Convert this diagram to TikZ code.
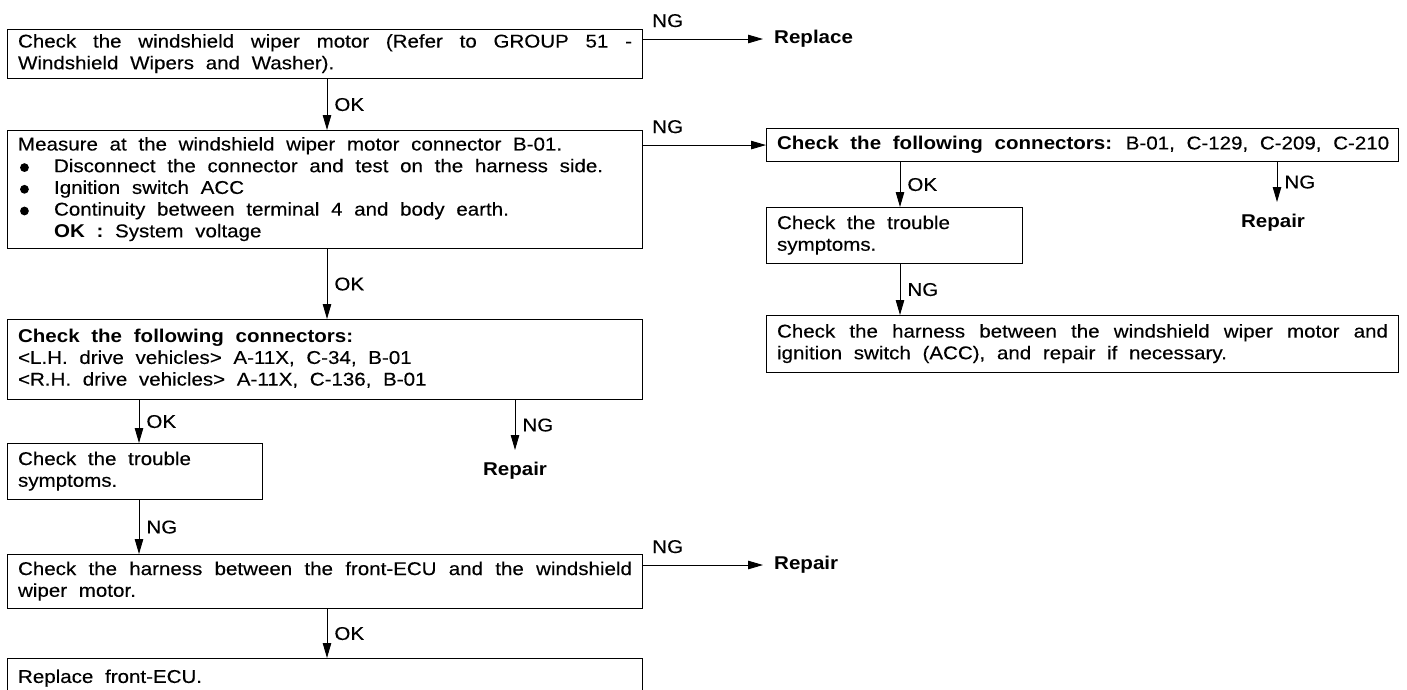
\documentclass[tikz,border=0pt]{standalone}
\usepackage{fontspec}
\setmainfont{Liberation Sans}[FakeStretch=1.11, WordSpace=2.05, UprightFeatures={FakeBold=0.25}]
\usetikzlibrary{arrows.meta,calc}

\newcommand{\flowfont}{\fontsize{18.5pt}{21.7pt}\selectfont}
% round bullet followed by the hanging indent of a list item
\newcommand{\dotitem}{\makebox[36pt][l]{\hspace{2pt}\tikz[baseline=0pt]\fill (4.4pt,4.6pt) circle[radius=4.4pt];}}

\begin{document}
\begin{tikzpicture}[x=1pt, y=-1pt, font=\flowfont,
  stepbox/.style={draw, line width=1.1pt, anchor=north west, inner xsep=10pt,
    inner ysep=0pt, align=justify,
    execute at begin node=\strut, execute at end node=\strut},
  flow/.style={line width=0.9pt, -{Triangle[length=15pt,width=8.5pt]}},
  lbl/.style={inner sep=0pt, font=\flowfont},
  result/.style={font=\flowfont\bfseries, inner xsep=11pt, inner ysep=12pt}]

\useasboundingbox (0,0) rectangle (1407,689);

% ---- left column ----
\node[stepbox, text width=614pt, minimum width=635pt, minimum height=49pt] (motor) at (7,29)
  {Check the windshield wiper motor (Refer to GROUP 51 -\linebreak Windshield Wipers and Washer).};

\node[stepbox, text width=614pt, minimum width=635pt, minimum height=118pt] (measure) at (7,130)
  {Measure at the windshield wiper motor connector B-01.\\%
   \dotitem Disconnect the connector and test on the harness side.\\%
   \dotitem Ignition switch ACC\\%
   \dotitem Continuity between terminal 4 and body earth.\\%
   \hspace*{36pt}\textbf{OK :} System voltage};

\node[stepbox, text width=614pt, minimum width=635pt, minimum height=80pt] (connL) at (7,319)
  {\textbf{Check the following connectors:}\\%
   <L.H. drive vehicles> A-11X, C-34, B-01\\%
   <R.H. drive vehicles> A-11X, C-136, B-01};

\node[stepbox, text width=234pt, minimum width=255pt, minimum height=56pt] (troubleL) at (7,443)
  {Check the trouble\\symptoms.};

\node[stepbox, text width=614pt, minimum width=635pt, minimum height=54pt] (harnessL) at (7,554)
  {Check the harness between the front-ECU and the windshield\linebreak wiper motor.};

\node[stepbox, text width=614pt, minimum width=635pt, minimum height=40pt] (ecu) at (7,658)
  {Replace front-ECU.};

% ---- right column ----
\node[stepbox, text width=611pt, minimum width=632pt, minimum height=33pt] (connR) at (766,128)
  {\mbox{\textbf{Check the following connectors:} B-01, C-129, C-209, C-210}};

\node[stepbox, text width=235pt, minimum width=256pt, minimum height=56pt] (troubleR) at (766,207)
  {Check the trouble\\symptoms.};

\node[stepbox, text width=611pt, minimum width=632pt, minimum height=57pt] (harnessR) at (766,315)
  {Check the harness between the windshield wiper motor and\linebreak ignition switch (ACC), and repair if necessary.};

% ---- end results ----
\node[result, anchor=west]  (replace) at (763,39)  {Replace};
\node[result, anchor=north] (repairR) at (1273,202) {Repair};
\node[result, anchor=north] (repairL) at (515,450)  {Repair};
\node[result, anchor=west]  (repairH) at (763,565)  {Repair};

% ---- connector columns and rows ----
\coordinate (mainx) at (327,0);
\coordinate (leftx) at (139,0);
\coordinate (ngLx)  at (515,0);
\coordinate (rightx) at (900,0);
\coordinate (ngRx)  at (1277,0);
\coordinate (row1)  at (0,39);
\coordinate (row8)  at (0,565);

% ---- connectors ----
\draw[flow] (motor.east |- row1) -- (replace.west);
\node[lbl, anchor=base west] at ($(motor.east |- row1)+(9,-12)$) {NG};

\draw[flow] (motor.south -| mainx) -- node[lbl, right=7pt] {OK} (measure.north -| mainx);

\draw[flow] (measure.east |- connR.west) -- (connR.west);
\node[lbl, anchor=base west] at ($(measure.east |- connR.west)+(9,-12)$) {NG};

\draw[flow] (measure.south -| mainx) -- node[lbl, right=7pt] {OK} (connL.north -| mainx);

\draw[flow] (connL.south -| leftx) -- node[lbl, right=7pt] {OK} (troubleL.north -| leftx);
\draw[flow] (connL.south -| ngLx) -- node[lbl, right=7pt] {NG} (repairL.north -| ngLx);

\draw[flow] (troubleL.south -| leftx) -- node[lbl, right=7pt] {NG} (harnessL.north -| leftx);

\draw[flow] (harnessL.east |- row8) -- (repairH.west);
\node[lbl, anchor=base west] at ($(harnessL.east |- row8)+(9,-12)$) {NG};

\draw[flow] (harnessL.south -| mainx) -- node[lbl, right=7pt] {OK} (ecu.north -| mainx);

\draw[flow] (connR.south -| rightx) -- node[lbl, right=7pt] {OK} (troubleR.north -| rightx);
\draw[flow] (connR.south -| ngRx) -- node[lbl, right=7pt] {NG} (repairR.north -| ngRx);
\draw[flow] (troubleR.south -| rightx) -- node[lbl, right=7pt] {NG} (harnessR.north -| rightx);

\end{tikzpicture}
\end{document}
